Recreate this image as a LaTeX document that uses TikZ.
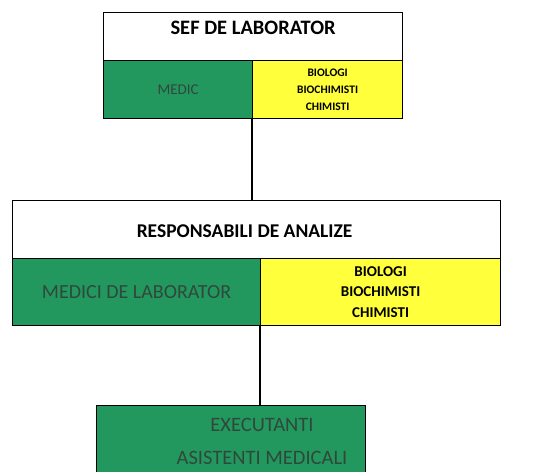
\documentclass[tikz,border=0pt]{standalone}
\usepackage{fontspec}
\setmainfont{Carlito}
\usepackage{xcolor}
\usetikzlibrary{positioning,calc}

\definecolor{cellgreen}{RGB}{34,152,94}
\definecolor{cellyellow}{RGB}{255,255,60}
\definecolor{greentext}{RGB}{48,72,60}

\begin{document}
\begin{tikzpicture}[
    x=1pt, y=-1pt,
    cell/.style={rectangle, draw, line width=1.2pt, inner sep=0pt, anchor=north west},
    head/.style={font=\bfseries\fontsize{20.5}{22}\selectfont},
    green/.style={cell, fill=cellgreen, text=greentext},
    yellow/.style={cell, fill=cellyellow, align=center, font=\bfseries\fontsize{11.5}{17}\selectfont},
    link/.style={line width=2.5pt}
]
\useasboundingbox (0,0) rectangle (548,471);

% sef de laborator
\node[cell, minimum width=299pt, minimum height=48pt] (sef) at (103,12) {};
\node[head] (seftitle) at ($(sef.north)+(0,16)$) {SEF DE LABORATOR};
\node[green, minimum width=149pt, minimum height=58pt, font=\fontsize{15}{17}\selectfont] (medic) at (103,60) {MEDIC};
\node[yellow, minimum width=150pt, minimum height=58pt] (bio1) at (252,60) {BIOLOGI\\BIOCHIMISTI\\CHIMISTI};

% responsabili de analize
\node[cell, minimum width=488pt, minimum height=58pt] (resp) at (12,200) {};
\node[head, font=\bfseries\fontsize{19.5}{22}\selectfont] (resptitle) at ($(resp.north)+(-12,31)$) {RESPONSABILI DE ANALIZE};
\node[green, minimum width=248pt, minimum height=67pt, font=\fontsize{20}{22}\selectfont] (medlab) at (12,258) {MEDICI DE LABORATOR};
\node[yellow, minimum width=240pt, minimum height=67pt, font=\bfseries\fontsize{15}{20.5}\selectfont] (bio2) at (260,258) {BIOLOGI\\BIOCHIMISTI\\CHIMISTI};

% executanti
\node[green, minimum width=269pt, minimum height=70pt] (exec) at (96,405) {};
\node[text=greentext, align=center, font=\fontsize{20.5}{33}\selectfont] (exectext) at (262,441) {EXECUTANTI\\ASISTENTI MEDICALI};

\draw[link] (bio1.south west) -- (bio1.south west |- resp.north);
\draw[link] (bio2.south west) -- (bio2.south west |- exec.north);
\end{tikzpicture}
\end{document}
